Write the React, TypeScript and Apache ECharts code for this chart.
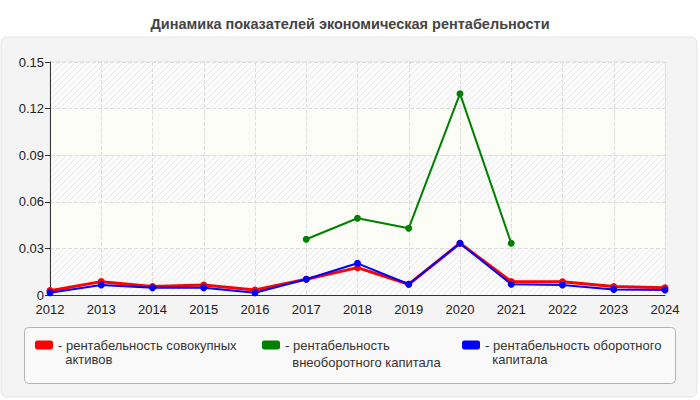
import React, { useEffect, useRef } from "react";
import * as echarts from "echarts";

const years = ["2012","2013","2014","2015","2016","2017","2018","2019","2020","2021","2022","2023","2024"];
const totalAssets = [0.0028,0.0086,0.0054,0.0064,0.0032,0.0101,0.0176,0.0069,0.0333,0.0086,0.0085,0.0055,0.0047];
const nonCurrent = [null,null,null,null,null,0.0359,0.0494,0.043,0.1296,0.0333,null,null,null];
const current = [0.0015,0.0064,0.0047,0.0047,0.0015,0.0101,0.0204,0.0069,0.0333,0.0069,0.0064,0.0036,0.0032];
const seriesNames = [
  "рентабельность совокупных активов",
  "рентабельность внеоборотного капитала",
  "рентабельность оборотного капитала",
];
const legendLabels = [
  " \n- рентабельность совокупных\n  активов",
  " \n- рентабельность\n  внеоборотного капитала",
  " \n- рентабельность оборотного\n  капитала",
];
const colors = ["#ff0000", "#008000", "#0000ff"];
const titleText = "Динамика показателей экономическая рентабельности";

function makeHatch(): HTMLCanvasElement {
  const c = document.createElement("canvas");
  c.width = 6;
  c.height = 6;
  const ctx = c.getContext("2d")!;
  ctx.fillStyle = "#fbfbfb";
  ctx.fillRect(0, 0, 6, 6);
  ctx.strokeStyle = "#ebebeb";
  ctx.lineWidth = 1;
  ctx.beginPath();
  ctx.moveTo(0, 6);
  ctx.lineTo(6, 0);
  ctx.moveTo(-1, 1);
  ctx.lineTo(1, -1);
  ctx.moveTo(5, 7);
  ctx.lineTo(7, 5);
  ctx.stroke();
  return c;
}

export default function App() {
  const ref = useRef<HTMLDivElement>(null);
  useEffect(() => {
    document.body.style.margin = "0";
    const chart = echarts.init(ref.current!, null, { renderer: "svg" });
    const hatch = { image: makeHatch(), repeat: "repeat" };
    const font = "Liberation Sans, Arial, sans-serif";
    const legendLefts = [35, 262, 462];
    const legendLineHeights = [14, 17, 14];
    chart.setOption({
      animation: false,
      backgroundColor: "#ffffff",
      title: {
        text: titleText,
        left: "center",
        top: 11,
        textStyle: { fontSize: 14.5, fontWeight: "bold", color: "#444", fontFamily: font },
      },
      graphic: [
        {
          type: "rect",
          z: -10,
          shape: { x: 1, y: 37, width: 696, height: 360, r: 6 },
          style: { fill: "#f4f4f4", stroke: "#e6e6e6", lineWidth: 1 },
        },
        {
          type: "rect",
          z: -9,
          shape: { x: 24.5, y: 327.5, width: 651, height: 56, r: 4 },
          style: { fill: "#f9f9f9", stroke: "#b4b4b4", lineWidth: 1 },
        },
      ],
      legend: seriesNames.map((n, i) => ({
        data: [n],
        left: legendLefts[i],
        top: 345 - 1.5 * legendLineHeights[i],
        orient: "horizontal",
        itemWidth: 18,
        itemHeight: 9,
        itemGap: 0,
        icon: "roundRect",
        padding: 0,
        selectedMode: false,
        formatter: () => legendLabels[i],
        textStyle: {
          fontSize: 13,
          color: "#333",
          fontFamily: font,
          lineHeight: legendLineHeights[i],
        },
      })),
      grid: {
        left: 50,
        right: 35,
        top: 62,
        bottom: 105,
        show: true,
        borderColor: "#dddddd",
        borderWidth: 1,
        backgroundColor: "transparent",
      },
      xAxis: {
        type: "category",
        data: years,
        boundaryGap: false,
        axisLine: { lineStyle: { color: "#333", width: 1 } },
        axisTick: { show: false },
        axisLabel: { color: "#222", fontSize: 13, fontFamily: font, margin: 8 },
        splitLine: { show: true, lineStyle: { color: "#dddddd", type: "dashed" } },
      },
      yAxis: {
        type: "value",
        min: 0,
        max: 0.15,
        interval: 0.03,
        axisLine: { show: true, lineStyle: { color: "#333", width: 1 } },
        axisTick: { show: true, length: 5, lineStyle: { color: "#333" } },
        axisLabel: {
          color: "#222",
          fontSize: 13,
          fontFamily: font,
          margin: 6,
          formatter: (v: number) => (v === 0 ? "0" : v.toFixed(2)),
        },
        splitLine: { show: true, lineStyle: { color: "#dddddd", type: "dashed" } },
        splitArea: { show: true, areaStyle: { color: [hatch, "#fcfdf6"] } },
      },
      series: [
        {
          name: seriesNames[0],
          type: "line",
          data: totalAssets,
          color: colors[0],
          symbol: "circle",
          symbolSize: 7,
          lineStyle: { width: 3, color: colors[0] },
          itemStyle: { color: colors[0] },
          z: 2,
        },
        {
          name: seriesNames[1],
          type: "line",
          data: nonCurrent,
          color: colors[1],
          symbol: "circle",
          symbolSize: 7,
          lineStyle: { width: 2, color: colors[1] },
          itemStyle: { color: colors[1] },
          z: 3,
        },
        {
          name: seriesNames[2],
          type: "line",
          data: current,
          color: colors[2],
          symbol: "circle",
          symbolSize: 7,
          lineStyle: { width: 2, color: colors[2] },
          itemStyle: { color: colors[2] },
          z: 4,
        },
      ],
    });
    return () => chart.dispose();
  }, []);
  return <div ref={ref} style={{ width: 700, height: 400 }} />;
}
